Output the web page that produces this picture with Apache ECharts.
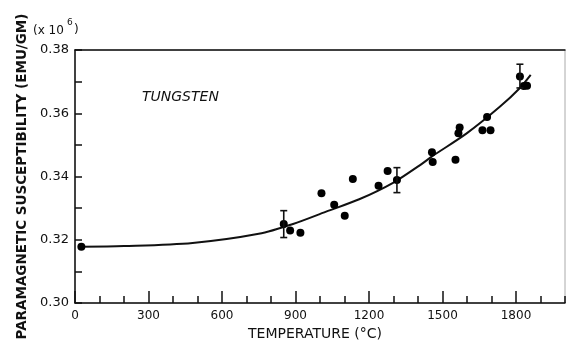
<!DOCTYPE html>
<html>
<head>
<meta charset="utf-8">
<script src="https://cdn.jsdelivr.net/npm/echarts@6/dist/echarts.min.js"></script>
<style>
html,body{margin:0;padding:0;background:#fff;}
#chart{width:567px;height:343px;}
</style>
</head>
<body>
<div id="chart"></div>
<script>
// measured points (temperature in C, susceptibility x10^6 emu/gm)
var tempPts = [26, 852, 878, 920, 1006, 1058, 1101, 1134, 1239, 1276, 1314,
	1457, 1460, 1553, 1565, 1570, 1663, 1682, 1696, 1816, 1832, 1845];
var suscPts = [0.3178, 0.3250, 0.3229, 0.3222, 0.3347, 0.3311, 0.3276, 0.3392, 0.3371, 0.3417, 0.3389,
	0.3477, 0.3446, 0.3453, 0.3537, 0.3555, 0.3546, 0.3588, 0.3546, 0.3716, 0.3686, 0.3687];

// smooth fitted curve
var curveT = [26, 200, 480, 750, 890, 1025, 1160, 1300, 1410, 1460, 1600, 1735, 1815, 1860];
var curveV = [0.3178, 0.3180, 0.3190, 0.3219, 0.3250, 0.3289, 0.3328, 0.3381, 0.3437, 0.3465, 0.3537, 0.3621, 0.3679, 0.3721];

// error bars
var errT = [852, 1314, 1816];
var errLow = [0.3207, 0.3349, 0.3680];
var errHigh = [0.3292, 0.3428, 0.3755];

var xTicks = [0, 300, 600, 900, 1200, 1500, 1800];

var ink = '#111';
var font = 'DejaVu Sans';

var chart = echarts.init(document.getElementById('chart'));

var pts = tempPts.map(function(t, i){ return [t, suscPts[i]]; });
var curve = curveT.map(function(t, i){ return [t, curveV[i]]; });
var bars = errT.map(function(t, i){ return [t, errLow[i], errHigh[i]]; });

var option = {
	animation: false,
	grid: {
		left: 75, right: 2, top: 50, bottom: 40,
		outerBoundsMode: 'none', containLabel: false,
		show: true, borderColor: '#aaa', borderWidth: 1
	},
	xAxis: [{
		type: 'value', position: 'bottom',
		min: 0, max: 2000, interval: 300,
		name: 'TEMPERATURE (°C)', nameLocation: 'middle', nameGap: 23,
		nameTextStyle: {fontFamily: font, fontSize: 14, color: ink, padding: [0, 10, 0, 0]},
		axisLine: {lineStyle: {color: ink, width: 1.5}},
		axisTick: {inside: true, length: 12, lineStyle: {color: ink, width: 1.5}},
		axisLabel: {
			fontFamily: font, fontSize: 12, color: ink, margin: 7, showMaxLabel: false,
			formatter: function(v){ return xTicks.indexOf(v) >= 0 ? String(v) : ''; }
		},
		splitLine: {show: false}
	}, {
		type: 'value', position: 'bottom',
		min: 0, max: 2000, interval: 100,
		axisLine: {show: false},
		axisTick: {inside: true, length: 7, lineStyle: {color: ink, width: 1.5}},
		axisLabel: {show: false},
		splitLine: {show: false}
	}, {
		type: 'value', position: 'top',
		min: 0, max: 2000,
		axisLine: {lineStyle: {color: ink, width: 1.5}},
		axisTick: {show: false},
		axisLabel: {show: false},
		splitLine: {show: false}
	}],
	yAxis: [{
		type: 'value', position: 'left',
		min: 0.30, max: 0.38, interval: 0.02,
		name: 'PARAMAGNETIC SUSCEPTIBILITY (EMU/GM)', nameLocation: 'middle', nameGap: 46,
		nameTextStyle: {fontFamily: font, fontSize: 13.5, fontWeight: 'bold', color: ink},
		axisLine: {lineStyle: {color: ink, width: 1.5}},
		axisTick: {inside: true, length: 7, lineStyle: {color: ink, width: 1.5}},
		minorTick: {show: true, splitNumber: 2, length: 7, lineStyle: {color: ink, width: 1.5}},
		axisLabel: {
			fontFamily: font, fontSize: 13, color: ink, margin: 6,
			formatter: function(v){ return v.toFixed(2); }
		},
		splitLine: {show: false}
	}],
	graphic: [
		{type: 'text', left: 142, top: 90, style: {text: 'TUNGSTEN', fontFamily: font, fontSize: 14, fontStyle: 'italic', fill: ink}},
		{type: 'text', left: 33, top: 25, style: {text: '(x 10', fontFamily: font, fontSize: 12, fill: ink}},
		{type: 'text', left: 67, top: 18, style: {text: '6', fontFamily: font, fontSize: 9, fill: ink}},
		{type: 'text', left: 74, top: 24, style: {text: ')', fontFamily: font, fontSize: 12, fill: ink}}
	],
	series: [{
		type: 'line',
		data: curve,
		smooth: 0.3,
		showSymbol: false,
		lineStyle: {color: ink, width: 2},
		z: 2
	}, {
		type: 'scatter',
		data: pts,
		symbolSize: 8,
		itemStyle: {color: '#000', opacity: 1},
		z: 3
	}, {
		type: 'custom',
		data: bars,
		z: 4,
		renderItem: function(params, api){
			var t = api.value(0);
			var lo = api.coord([t, api.value(1)]);
			var hi = api.coord([t, api.value(2)]);
			var w = 3.5;
			var st = {stroke: ink, lineWidth: 1.6};
			return {
				type: 'group',
				children: [
					{type: 'line', shape: {x1: lo[0], y1: lo[1], x2: hi[0], y2: hi[1]}, style: st},
					{type: 'line', shape: {x1: lo[0]-w, y1: lo[1], x2: lo[0]+w, y2: lo[1]}, style: st},
					{type: 'line', shape: {x1: hi[0]-w, y1: hi[1], x2: hi[0]+w, y2: hi[1]}, style: st}
				]
			};
		}
	}]
};
chart.setOption(option);
</script>
</body>
</html>
